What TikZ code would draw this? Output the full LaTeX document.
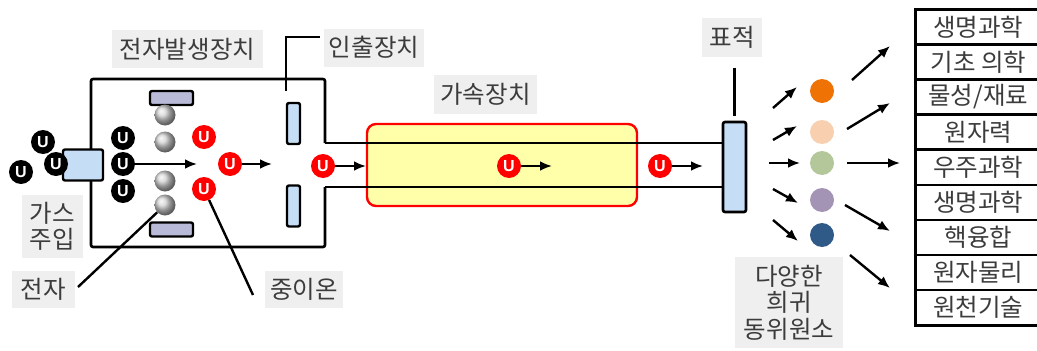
\documentclass[tikz,border=0pt]{standalone}
\usepackage{fontspec}
\newfontfamily\kr{Noto Sans CJK KR}
\newfontfamily\uf{Liberation Sans}
\usetikzlibrary{arrows.meta,shadings}
\definecolor{txt}{HTML}{3C3C3C}
\definecolor{lblbg}{HTML}{EFEFEF}
\definecolor{pblue}{HTML}{C5DDF5}
\definecolor{plate}{HTML}{B8BAD8}
\definecolor{accfill}{HTML}{FFFFAA}
\definecolor{ionred}{HTML}{FF0000}
\definecolor{dotA}{HTML}{EE7204}
\definecolor{dotB}{HTML}{F8D0B0}
\definecolor{dotC}{HTML}{B3C79A}
\definecolor{dotD}{HTML}{A394B5}
\definecolor{dotE}{HTML}{2F5A88}
\tikzset{
  wall/.style={line width=2.6pt, line join=round},
  arr/.style={line width=2.4pt, -{Latex[length=12pt,width=10pt]}},
  lead/.style={line width=2.4pt},
  lbl/.style={fill=lblbg, text=txt, inner sep=0pt, align=center,
    font=\kr\fontsize{24.5}{26.5}\selectfont},
  uion/.style={circle, fill=#1, text=white, inner sep=0pt, minimum size=24pt,
    font=\uf\bfseries\fontsize{16}{16}\selectfont},
  electron/.style={circle, inner sep=0pt, minimum size=21pt, shading=ball, ball color=gray!35},
  plt/.style={draw, line width=2.4pt, fill=plate, rounded corners=2pt, minimum width=43pt, minimum height=14pt, inner sep=0pt},
  electrode/.style={draw, line width=2.4pt, fill=pblue, rounded corners=2pt, minimum width=13pt, minimum height=41pt, inner sep=0pt},
  iso/.style={circle, fill=#1, inner sep=0pt, minimum size=24pt},
  field/.style={draw, line width=2.6pt, text=txt, inner sep=0pt, anchor=north west,
    minimum width=126pt, minimum height=35.1pt, font=\kr\fontsize{24.5}{26}\selectfont},
}
\begin{document}
\begin{tikzpicture}[x=1pt,y=-1pt]
\useasboundingbox (0,0) rectangle (1037,351);

% labels
\node[lbl, minimum width=151pt, minimum height=38pt] (lgen) at (187.5,49) {전자발생장치};
\node[lbl, minimum width=100pt, minimum height=38pt] (lext) at (374,47.5) {인출장치};
\node[lbl, minimum width=103pt, minimum height=39pt] (lacc) at (485.5,94.5) {가속장치};
\node[lbl, minimum width=60pt, minimum height=39pt] (ltgt) at (732,37.5) {표적};
\node[lbl, minimum width=61pt, minimum height=63pt] (lgas) at (52.5,226.5) {가스\\주입};
\node[lbl, minimum width=63pt, minimum height=37pt] (lel) at (43.5,289.5) {전자};
\node[lbl, minimum width=78pt, minimum height=37pt] (lion) at (304,289.5) {중이온};
\node[lbl, minimum width=108pt, minimum height=91pt] (liso) at (789,302.5) {다양한\\희귀\\동위원소};

% accelerator
\node[draw=ionred, fill=accfill, line width=2.4pt, rounded corners=9pt,
  minimum width=270pt, minimum height=82pt, inner sep=0pt] (acc) at (502,165) {};

% target
\node[draw, line width=2.6pt, fill=pblue, rounded corners=2pt, minimum width=23pt,
  minimum height=90pt, inner sep=0pt] (tgt) at (734.5,167) {};

% source chamber and beam tube
\coordinate (ct) at (325,143);
\coordinate (cb) at (325,187);
\draw[wall, rounded corners=2pt] (ct) -- (325,79) -- (91,79) -- (91,247) -- (325,247) -- (cb);
\draw[wall] (ct) -- (tgt.west |- ct);
\draw[wall] (cb) -- (tgt.west |- cb);

% gas inlet
\node[draw, line width=2.4pt, fill=pblue, rounded corners=2pt, minimum width=40pt,
  minimum height=31pt, inner sep=0pt] (inlet) at (83,165) {};
\node[uion=black] (g1) at (43,142) {U};
\node[uion=black] (g2) at (21,172) {U};
\node[uion=black] (g3) at (56,164) {U};

% electron source plates and electrons
\node[plt] (p1) at (171.5,98) {};
\node[plt] (p2) at (171.5,229.5) {};
\node[electron] (e1) at (165,115) {};
\node[electron] (e2) at (165,142) {};
\node[electron] (e3) at (165,181) {};
\node[electron] (e4) at (165,205) {};

% neutral atoms
\node[uion=black] (n1) at (123,138) {U};
\node[uion=black] (n2) at (123,164) {U};
\node[uion=black] (n3) at (123,191) {U};
\coordinate (n2e) at (197,164);
\draw[arr] (n2) -- (n2e);

% ions
\node[uion=ionred] (r1) at (204,137) {U};
\node[uion=ionred] (r2) at (230,164) {U};
\node[uion=ionred] (r3) at (204,189) {U};
\coordinate (r2e) at (272,164);
\draw[arr] (r2) -- (r2e);

% extraction electrodes
\node[electrode] (x1) at (293.5,123.5) {};
\node[electrode] (x2) at (293.5,206) {};
\coordinate (xk) at (286,37);
\draw[lead] ([xshift=-7.5pt,yshift=11pt]x1.north) -- (xk) -- (320,37);

% beam
\node[uion=ionred] (b1) at (323,166) {U};
\node[uion=ionred] (b2) at (509,166) {U};
\node[uion=ionred] (b3) at (660,166) {U};
\coordinate (b1e) at (366,166);
\coordinate (b2e) at (552,166);
\coordinate (b3e) at (703,166);
\draw[arr] (b1) -- (b1e);
\draw[arr] (b2) -- (b2e);
\draw[arr] (b3) -- (b3e);

% target leader
\draw[lead] ([yshift=53pt]tgt.north) -- ([yshift=5pt]tgt.north);

% pointers to electrons and ions
\coordinate (le) at (78,287);
\draw[lead] (le) -- (e4);
\coordinate (li) at (253,295);
\draw[lead] (r3) -- (li);

% isotopes
\node[iso=dotA] (d1) at (822,91) {};
\node[iso=dotB] (d2) at (822,132) {};
\node[iso=dotC] (d3) at (822,163) {};
\node[iso=dotD] (d4) at (822,200) {};
\node[iso=dotE] (d5) at (822,235) {};

\draw[arr] (773,108) -- (797,87);
\draw[arr] (773,140) -- (797,126);
\draw[arr] (769,163) -- (800,163);
\draw[arr] (773,189) -- (798,203);
\draw[arr] (773,220) -- (798,241);

% application fields
\foreach \t [count=\i from 0] in {생명과학,기초 의학,물성/재료,원자력,우주과학,생명과학,핵융합,원자물리,원천기술}
  \node[field] (f\i) at (914,{8+35.1*\i}) {\t};

\draw[arr] (852,80) -- (890,46);
\draw[arr] (847,129) -- (890,103);
\draw[arr] (847,163) -- (900,163);
\draw[arr] (845,205) -- (890,231);
\draw[arr] (850,255) -- (890,288);
\end{tikzpicture}
\end{document}
